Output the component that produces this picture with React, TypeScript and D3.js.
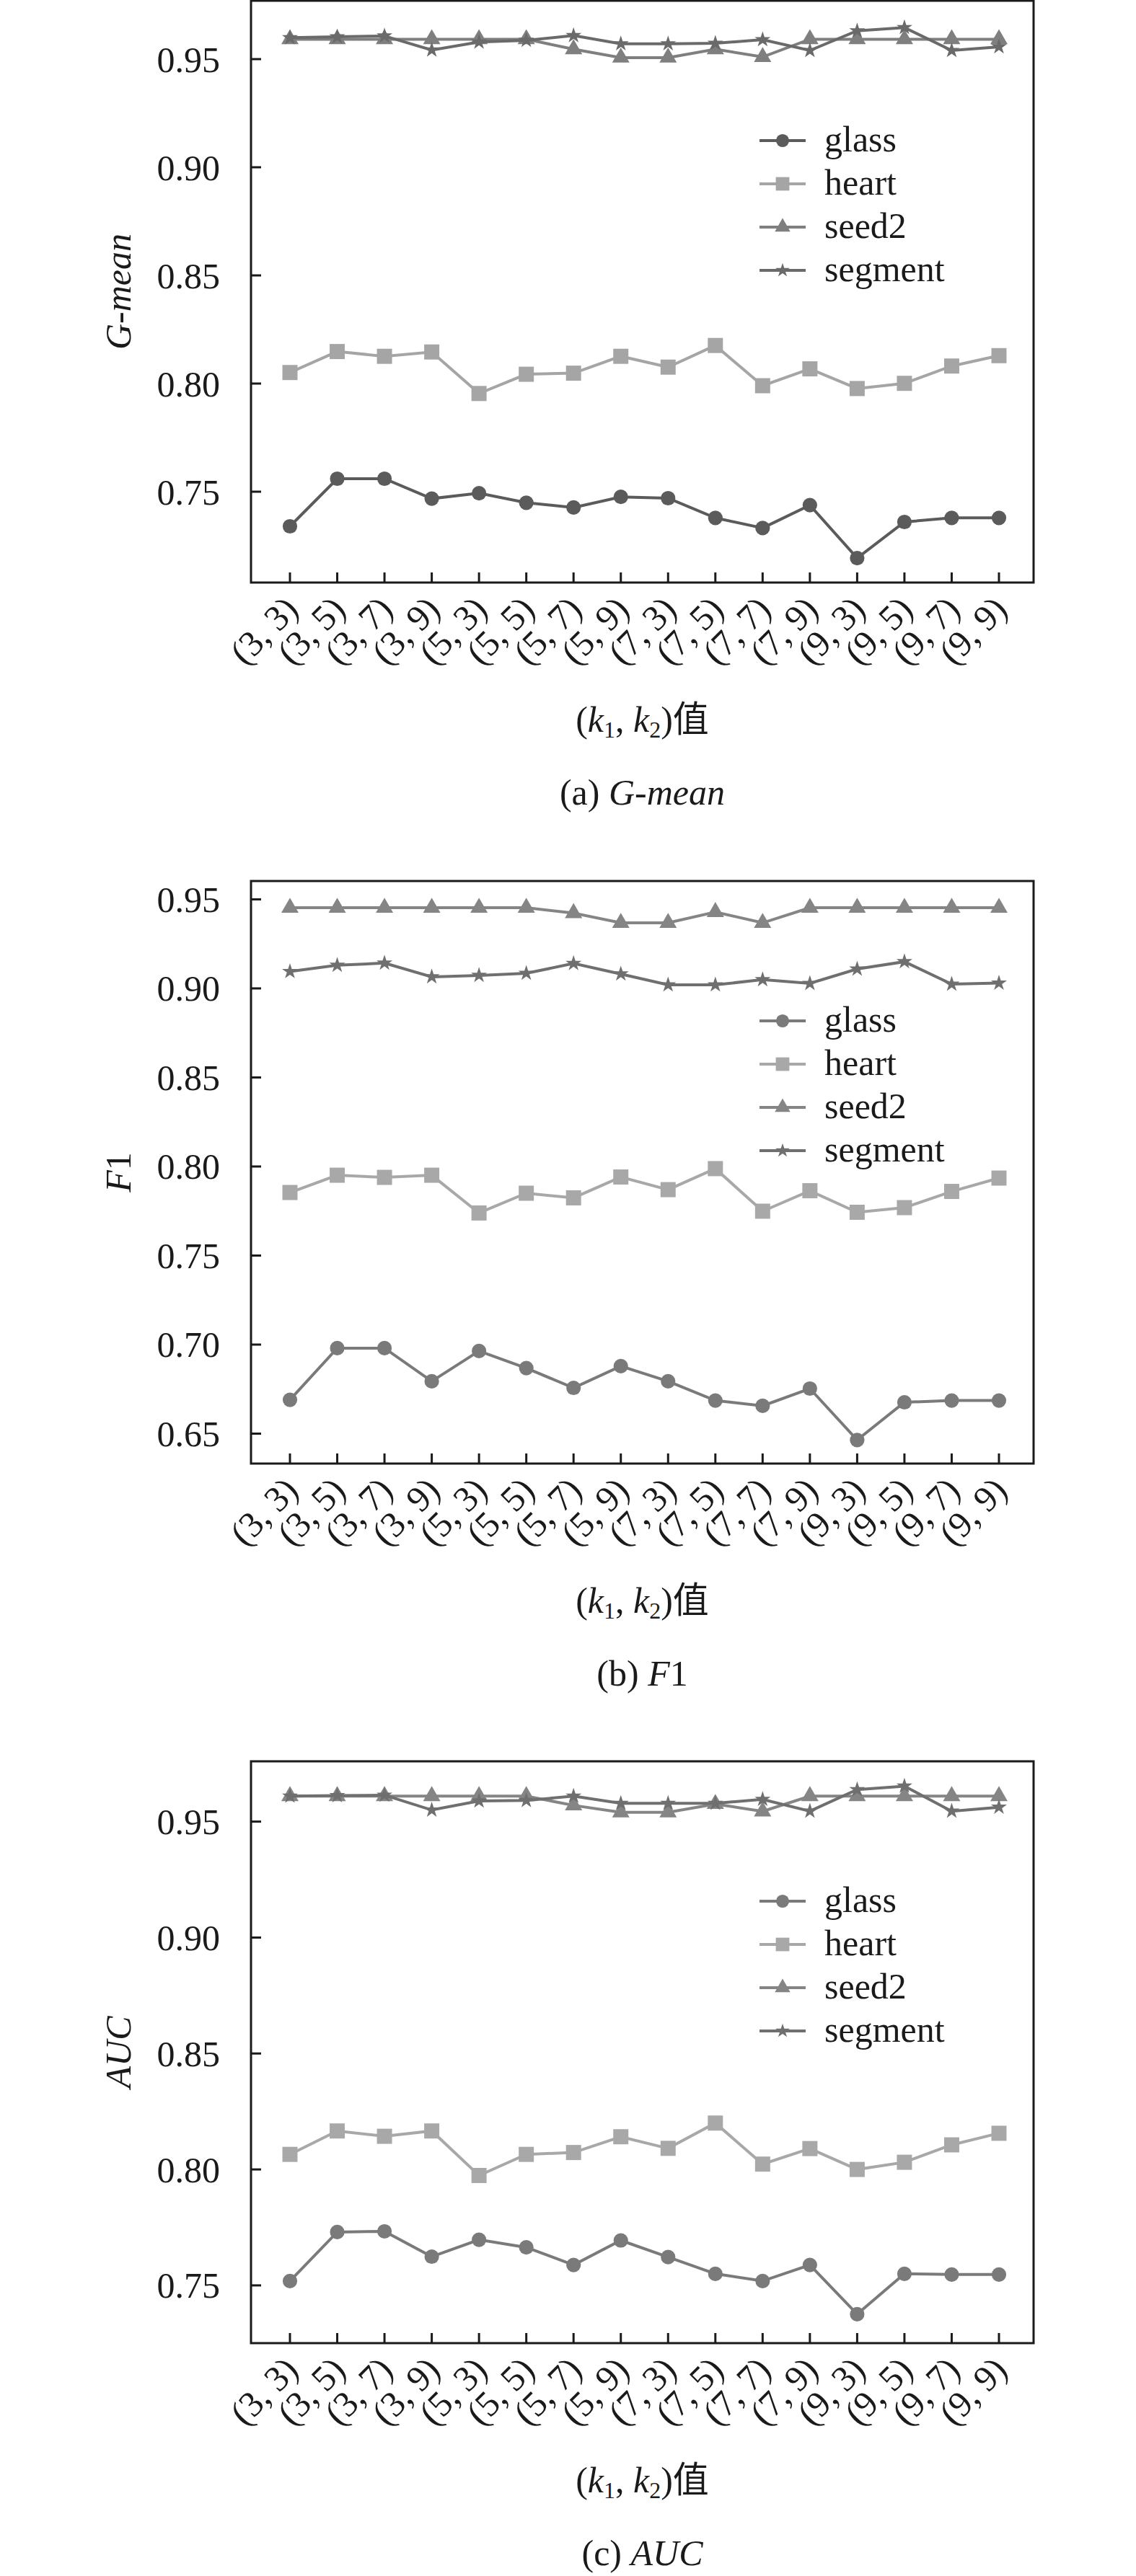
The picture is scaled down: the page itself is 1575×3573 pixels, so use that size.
import * as d3 from "d3";

// (k1, k2) combinations
const categories = [
  "(3, 3)", "(3, 5)", "(3, 7)", "(3, 9)",
  "(5, 3)", "(5, 5)", "(5, 7)", "(5, 9)",
  "(7, 3)", "(7, 5)", "(7, 7)", "(7, 9)",
  "(9, 3)", "(9, 5)", "(9, 7)", "(9, 9)",
];

const seriesNames = ["glass", "heart", "seed2", "segment"];

// (a) G-mean
const gmeanGlass = [0.734, 0.756, 0.756, 0.7468, 0.7493, 0.7449, 0.7427, 0.7476, 0.747, 0.7379, 0.7332, 0.7438, 0.7193, 0.736, 0.7379, 0.7379];
const gmeanHeart = [0.8051, 0.8148, 0.8126, 0.8146, 0.7954, 0.8043, 0.8048, 0.8126, 0.8076, 0.8176, 0.799, 0.8068, 0.7977, 0.8001, 0.8081, 0.8129];
const gmeanSeed2 = [0.9592, 0.9592, 0.9592, 0.9592, 0.9592, 0.9592, 0.9546, 0.9507, 0.9507, 0.9546, 0.951, 0.9592, 0.9592, 0.9592, 0.9592, 0.9592];
const gmeanSegment = [0.9599, 0.9603, 0.9607, 0.9542, 0.9579, 0.9587, 0.9609, 0.9571, 0.9571, 0.9573, 0.959, 0.954, 0.9631, 0.9646, 0.954, 0.9557];
const gmeanTicks = [0.75, 0.8, 0.85, 0.9, 0.95];
const gmeanDomain = [0.708, 0.977];

// (b) F1
const f1Glass = [0.669, 0.698, 0.698, 0.6794, 0.6964, 0.6868, 0.6757, 0.6879, 0.6794, 0.6686, 0.6656, 0.6753, 0.6464, 0.6676, 0.6686, 0.6686];
const f1Heart = [0.7854, 0.7951, 0.7939, 0.7951, 0.7739, 0.785, 0.7824, 0.7941, 0.787, 0.7988, 0.7749, 0.7864, 0.7743, 0.7769, 0.786, 0.7935];
const f1Seed2 = [0.9453, 0.9453, 0.9453, 0.9453, 0.9453, 0.9453, 0.9423, 0.9368, 0.9368, 0.9429, 0.9368, 0.9453, 0.9453, 0.9453, 0.9453, 0.9453];
const f1Segment = [0.9095, 0.913, 0.9142, 0.9065, 0.9073, 0.9085, 0.914, 0.9081, 0.902, 0.902, 0.9049, 0.9028, 0.9109, 0.915, 0.9024, 0.903];
const f1Ticks = [0.65, 0.7, 0.75, 0.8, 0.85, 0.9, 0.95];
const f1Domain = [0.6332, 0.9603];

// (c) AUC
const aucGlass = [0.7519, 0.773, 0.7733, 0.7624, 0.7697, 0.7664, 0.7588, 0.7694, 0.7622, 0.755, 0.7519, 0.7588, 0.7376, 0.755, 0.7547, 0.7547];
const aucHeart = [0.8065, 0.8166, 0.8143, 0.8166, 0.7974, 0.8065, 0.8073, 0.8141, 0.8091, 0.82, 0.8023, 0.809, 0.8, 0.8031, 0.8106, 0.8156];
const aucSeed2 = [0.961, 0.961, 0.961, 0.961, 0.961, 0.961, 0.957, 0.954, 0.954, 0.9576, 0.9544, 0.961, 0.961, 0.961, 0.961, 0.961];
const aucSegment = [0.961, 0.9612, 0.9614, 0.955, 0.9589, 0.9591, 0.961, 0.9579, 0.9579, 0.9579, 0.9596, 0.9545, 0.9638, 0.9653, 0.9545, 0.9562];
const aucTicks = [0.75, 0.8, 0.85, 0.9, 0.95];
const aucDomain = [0.7251, 0.976];

const darkColors = ["#5b5b5b", "#a5a5a5", "#7f7f7f", "#6a6a6a"];
const lightColors = ["#7a7a7a", "#a8a8a8", "#858585", "#6f6f6f"];
const symbols = [d3.symbolCircle, d3.symbolSquare, d3.symbolTriangle, d3.symbolStar];
const symbolSizes = [320, 440, 250, 150];

const SERIF = "'Liberation Serif', 'Times New Roman', serif";
const CJK = "'Liberation Serif', 'Noto Sans CJK SC', serif";

const W = 1575;
const H = 3573;
const left = 348;
const right = 1433;
const firstX = 402;
const lastX = 1385;

type Panel = {
  top: number;
  bottom: number;
  domain: number[];
  ticks: number[];
  data: number[][];
  colors: string[];
  tag: string;
  italic: string;
  plain: string;
};

const panels: Panel[] = [
  {
    top: 1, bottom: 808, domain: gmeanDomain, ticks: gmeanTicks,
    data: [gmeanGlass, gmeanHeart, gmeanSeed2, gmeanSegment],
    colors: darkColors, tag: "(a) ", italic: "G-mean", plain: "",
  },
  {
    top: 1222, bottom: 2030, domain: f1Domain, ticks: f1Ticks,
    data: [f1Glass, f1Heart, f1Seed2, f1Segment],
    colors: lightColors, tag: "(b) ", italic: "F", plain: "1",
  },
  {
    top: 2443, bottom: 3250, domain: aucDomain, ticks: aucTicks,
    data: [aucGlass, aucHeart, aucSeed2, aucSegment],
    colors: lightColors, tag: "(c) ", italic: "AUC", plain: "",
  },
];

const x = d3.scalePoint<string>().domain(categories).range([firstX, lastX]);

function Chart({ p }: { p: Panel }) {
  const y = d3.scaleLinear().domain(p.domain).range([p.bottom, p.top]);
  const fmt = d3.format(".2f");
  const midY = (p.top + p.bottom) / 2;
  const midX = (left + right) / 2;
  const legendY = p.top + 194;

  return (
    <g>
      {p.data.map((vals, si) => {
        const pts = vals.map((v, i) => [x(categories[i])!, y(v)] as [number, number]);
        const line = d3.line()(pts)!;
        const sym = d3.symbol().type(symbols[si]).size(symbolSizes[si])()!;
        return (
          <g key={si}>
            <path d={line} fill="none" stroke={p.colors[si]} strokeWidth={4} />
            {pts.map((pt, i) => (
              <path key={i} d={sym} transform={`translate(${pt[0]},${pt[1]})`} fill={p.colors[si]} />
            ))}
          </g>
        );
      })}

      {/* frame */}
      <rect x={left} y={p.top} width={right - left} height={p.bottom - p.top} fill="none" stroke="#1a1a1a" strokeWidth={3} />

      {/* y ticks */}
      {p.ticks.map((t) => (
        <g key={t}>
          <line x1={left} x2={left + 14} y1={y(t)} y2={y(t)} stroke="#1a1a1a" strokeWidth={3} />
          <text x={left - 43} y={y(t)} dy="0.35em" textAnchor="end" fontFamily={SERIF} fontSize={50} fill="#1a1a1a">
            {fmt(t)}
          </text>
        </g>
      ))}

      {/* x ticks */}
      {categories.map((c) => (
        <g key={c}>
          <line x1={x(c)} x2={x(c)} y1={p.bottom} y2={p.bottom - 14} stroke="#1a1a1a" strokeWidth={3} />
          <text
            transform={`translate(${x(c)! + 14},${p.bottom + 40}) rotate(-45)`}
            textAnchor="end" fontFamily={SERIF} fontSize={50} fill="#1a1a1a"
          >
            {c}
          </text>
        </g>
      ))}

      {/* y label */}
      <text transform={`translate(181,${midY}) rotate(-90)`} textAnchor="middle" fontFamily={SERIF} fontSize={50} fill="#1a1a1a">
        <tspan fontStyle="italic">{p.italic}</tspan>
        {p.plain && <tspan>{p.plain}</tspan>}
      </text>

      {/* x label */}
      <text x={midX} y={p.bottom + 207} textAnchor="middle" fontFamily={CJK} fontSize={50} fill="#1a1a1a">
        <tspan>(</tspan>
        <tspan fontStyle="italic">k</tspan>
        <tspan fontSize={32} dy={8}>1</tspan>
        <tspan dy={-8}>, </tspan>
        <tspan fontStyle="italic">k</tspan>
        <tspan fontSize={32} dy={8}>2</tspan>
        <tspan dy={-8}>)值</tspan>
      </text>

      {/* caption */}
      <text x={midX} y={p.bottom + 308} textAnchor="middle" fontFamily={SERIF} fontSize={50} fill="#1a1a1a">
        <tspan>{p.tag}</tspan>
        <tspan fontStyle="italic">{p.italic}</tspan>
        {p.plain && <tspan>{p.plain}</tspan>}
      </text>

      {/* legend */}
      {seriesNames.map((n, si) => {
        const ly = legendY + si * 60;
        const sym = d3.symbol().type(symbols[si]).size(symbolSizes[si] * 0.8)()!;
        return (
          <g key={n}>
            <line x1={1053} x2={1117} y1={ly} y2={ly} stroke={p.colors[si]} strokeWidth={4} />
            <path d={sym} transform={`translate(1085,${ly})`} fill={p.colors[si]} />
            <text x={1143} y={ly} dy="0.3em" fontFamily={SERIF} fontSize={50} fill="#1a1a1a">
              {n}
            </text>
          </g>
        );
      })}
    </g>
  );
}

export default function App() {
  return (
    <div style={{ position: "absolute", left: 0, top: 0, background: "#fff" }}>
      <svg width={W} height={H} style={{ display: "block" }}>
        <rect width={W} height={H} fill="#fff" />
        {panels.map((p, i) => (
          <Chart key={i} p={p} />
        ))}
      </svg>
    </div>
  );
}
